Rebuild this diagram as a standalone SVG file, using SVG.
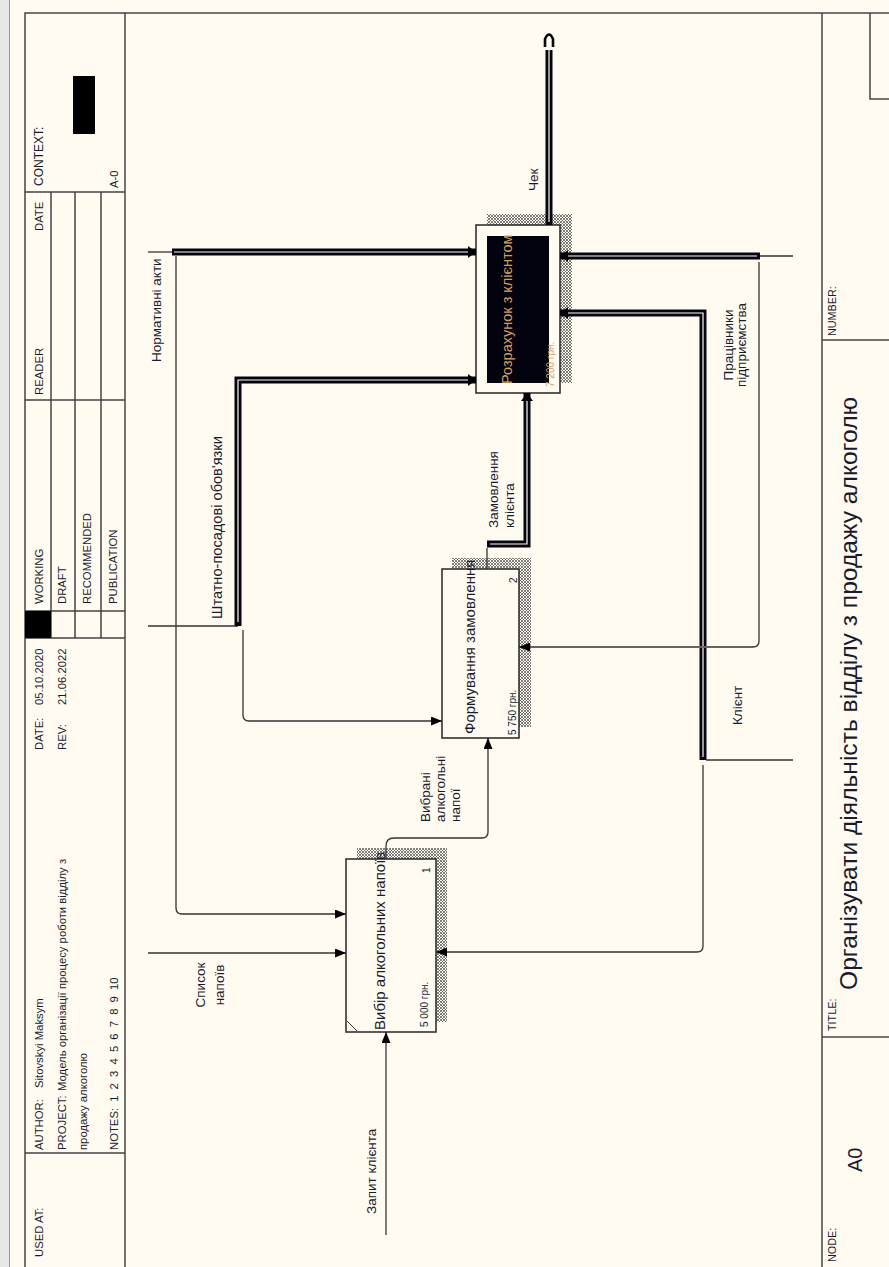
<svg xmlns="http://www.w3.org/2000/svg" width="889" height="1267" viewBox="0 0 889 1267">
<style>
.frame{stroke:#444;stroke-width:1.5;fill:none}
.hdr{font-family:"Liberation Sans",Arial,sans-serif;font-size:11.3px;fill:#1a1a2e}
.tb{font-family:"Liberation Sans",Arial,sans-serif;font-size:10.8px;fill:#1a1a2e}
.lbl{font-family:"Liberation Sans",Arial,sans-serif;font-size:13.5px;fill:#1a1a2e}
.btxt{font-family:"Liberation Sans",Arial,sans-serif;font-size:15px;fill:#1a1a2e}
.cost{font-family:"Liberation Sans",Arial,sans-serif;font-size:10px;fill:#1a1a2e}
.box{fill:#fffbf0;stroke:#333;stroke-width:1.6}
.thin{fill:none;stroke:#333;stroke-width:1.3}
.thick{fill:none;stroke:#050510;stroke-width:7}
.core{fill:none;stroke:#fffbf0;stroke-width:1.2}
</style>
<defs>
<pattern id="hatch" width="3" height="3" patternUnits="userSpaceOnUse"><rect width="3" height="3" fill="#fffbf0"/><path d="M0,0 L3,3 M3,0 L0,3" stroke="#555" stroke-width="0.75"/></pattern>
<marker id="arr" markerWidth="11" markerHeight="9" refX="11" refY="4.5" orient="auto" markerUnits="userSpaceOnUse"><path d="M0,0 L11,4.5 L0,9 z" fill="#000"/></marker>
<marker id="arrT" markerWidth="8" markerHeight="12" refX="8" refY="6" orient="auto" markerUnits="userSpaceOnUse"><path d="M0,0 L8,6 L0,12 z" fill="#000"/></marker>
</defs>
<rect width="889" height="1267" fill="#fffbf0"/>
<rect x="0" y="0" width="9" height="1267" fill="#e6e6e6"/>
<line x1="9.5" y1="0" x2="9.5" y2="1267" stroke="#999" stroke-width="1"/>

<g id="frame">
<path class="frame" d="M25,1267 V13 H889"/>
<path class="frame" d="M125,13 V1267"/>
<path class="frame" d="M25,192 H125 M25,400 H125 M25,611 H125 M25,638 H125 M25,1153 H125"/>
<path class="frame" d="M51,192 V638 M75,192 V638 M101,192 V638"/>
<rect x="25" y="611" width="26" height="27" fill="#000"/>
<rect x="73" y="76" width="22" height="58" fill="#000"/>
<path class="frame" d="M822,13 V1267 M822,340 H889 M822,1037 H889 M870,13 V99 H889"/>
<text class="hdr" transform="translate(43,186) rotate(-90)" style="font-size:12px">CONTEXT:</text>
<text class="hdr" transform="translate(118,188) rotate(-90)">A-0</text>
<text class="hdr" transform="translate(43,231) rotate(-90)">DATE</text>
<text class="hdr" transform="translate(43,395) rotate(-90)">READER</text>
<text class="hdr" transform="translate(43,604) rotate(-90)">WORKING</text>
<text class="hdr" transform="translate(66,604) rotate(-90)">DRAFT</text>
<text class="hdr" transform="translate(91,604) rotate(-90)">RECOMMENDED</text>
<text class="hdr" transform="translate(117,604) rotate(-90)">PUBLICATION</text>
<text class="hdr" transform="translate(43,750) rotate(-90)">DATE:</text>
<text class="hdr" transform="translate(43,705) rotate(-90)">05.10.2020</text>
<text class="hdr" transform="translate(66,750) rotate(-90)">REV:</text>
<text class="hdr" transform="translate(66,705) rotate(-90)">21.06.2022</text>
<text class="hdr" transform="translate(43,1150) rotate(-90)">AUTHOR:</text>
<text class="hdr" transform="translate(43,1088) rotate(-90)">Sitovskyi Maksym</text>
<text class="hdr" transform="translate(66,1150) rotate(-90)">PROJECT:</text>
<text class="hdr" transform="translate(66,1091) rotate(-90)">Модель організації процесу роботи відділу з</text>
<text class="hdr" transform="translate(87,1150) rotate(-90)">продажу алкоголю</text>
<text class="hdr" transform="translate(118,1150) rotate(-90)" word-spacing="3">NOTES:  1 2 3 4 5 6 7 8 9 10</text>
<text class="hdr" transform="translate(43,1257) rotate(-90)">USED AT:</text>
<text class="tb" transform="translate(836,336) rotate(-90)">NUMBER:</text>
<text class="tb" transform="translate(836,1031) rotate(-90)">TITLE:</text>
<text class="tb" transform="translate(836,1262) rotate(-90)">NODE:</text>
<text transform="translate(857,990) rotate(-90)" font-family="Liberation Sans, Arial, sans-serif" font-size="24.6" fill="#1a1a2e">Організувати діяльність відділу з продажу алкоголю</text>
<text transform="translate(862,1172) rotate(-90)" font-family="Liberation Sans, Arial, sans-serif" font-size="20" fill="#1a1a2e">A0</text>
</g>

<g id="node1">
<path d="M357,848 H447 V1022 H436 V859 H357 Z" fill="url(#hatch)"/>
<rect class="box" x="346" y="859" width="90" height="173"/>
<line x1="347" y1="1021" x2="357" y2="1031" stroke="#333" stroke-width="1"/>
<text class="btxt" transform="translate(385,1030) rotate(-90)">Вибір алкогольних напоїв</text>
<text class="cost" transform="translate(428,1027) rotate(-90)">5 000 грн.</text>
<text class="cost" transform="translate(430,873) rotate(-90)">1</text>
</g>

<g id="node2">
<path d="M452,558 H531 V727 H519 V569 H452 Z" fill="url(#hatch)"/>
<rect class="box" x="442" y="569" width="77" height="169"/>
<text class="btxt" transform="translate(475,734) rotate(-90)">Формування замовлення</text>
<text class="cost" transform="translate(516,735) rotate(-90)">5 750 грн.</text>
<text class="cost" transform="translate(517,583) rotate(-90)">2</text>
</g>

<g id="node3">
<path d="M487,214 H572 V383 H560 V225 H487 Z" fill="url(#hatch)"/>
<rect class="box" x="476" y="225" width="84" height="168"/>
<rect x="487" y="236" width="62" height="147" fill="#03030f"/>
<text class="btxt" transform="translate(512,384) rotate(-90)" style="fill:#d8a060;font-size:14.5px">Розрахунок з клієнтом</text>
<text class="cost" transform="translate(554,387) rotate(-90)" style="fill:#d8a060">7 200 грн.</text>
</g>

<g id="connectors">
<path class="thin" d="M148,252 H174"/>
<path class="thin" d="M176,256 V908 Q176,914 182,914 H346" marker-end="url(#arr)"/>
<path class="thin" d="M148,626 H238"/>
<path class="thin" d="M243,630 V715 Q243,721 249,721 H442" marker-end="url(#arr)"/>
<path class="thin" d="M148,953 H346" marker-end="url(#arr)"/>
<path class="thin" d="M386,1235 V1032" marker-end="url(#arr)"/>
<path class="thin" d="M386,859 V846 Q386,838 394,838 H482 Q488,838 488,832 V738" marker-end="url(#arr)"/>
<path class="thin" d="M487,569 V548"/>
<path class="thin" d="M760,256 H793"/>
<path class="thin" d="M759,262 V641 Q759,647 753,647 H519" marker-end="url(#arr)"/>
<path class="thin" d="M706,760 H793"/>
<path class="thin" d="M703,765 V946 Q703,952 697,952 H436" marker-end="url(#arr)"/>

<path class="thick" d="M172,252 H476" marker-end="url(#arrT)"/>
<path class="core" d="M174,252 H468"/>
<path class="thick" d="M238,626 V380 H476" marker-end="url(#arrT)"/>
<path class="core" d="M238,622 V380 H468"/>
<path class="thick" d="M487,544 H527 V393" marker-end="url(#arrT)"/>
<path class="core" d="M490,544 H527 V401"/>
<path class="thick" d="M549,225 V50"/>
<path class="core" d="M549,222 V50"/>
<path d="M545,47 V39 Q549,30 553,39 V47" fill="none" stroke="#050510" stroke-width="2.6"/>
<path class="thick" d="M760,256 H560" marker-end="url(#arrT)"/>
<path class="core" d="M757,256 H568"/>
<path class="thick" d="M703,760 V313 H560" marker-end="url(#arrT)"/>
<path class="core" d="M703,757 V313 H568"/>
<line x1="699" y1="647" x2="707" y2="647" stroke="#fffbf0" stroke-width="1.5"/>
<path class="thin" d="M699,647 H707"/>
</g>

<g id="labels">
<text class="lbl" transform="translate(161,362) rotate(-90)">Нормативні акти</text>
<text class="lbl" transform="translate(222,619) rotate(-90)" style="font-size:14.6px">Штатно-посадові обов'язки</text>
<text class="lbl" text-anchor="middle" transform="translate(205,985) rotate(-90)">Список</text>
<text class="lbl" text-anchor="middle" transform="translate(224,985) rotate(-90)">напоїв</text>
<text class="lbl" transform="translate(376,1214) rotate(-90)">Запит клієнта</text>
<text class="lbl" transform="translate(430,822) rotate(-90)">Вибрані</text>
<text class="lbl" transform="translate(445,822) rotate(-90)">алкогольні</text>
<text class="lbl" transform="translate(460,822) rotate(-90)">напої</text>
<text class="lbl" transform="translate(498,528) rotate(-90)">Замовлення</text>
<text class="lbl" transform="translate(514,528) rotate(-90)">клієнта</text>
<text class="lbl" transform="translate(538,191) rotate(-90)">Чек</text>
<text class="lbl" text-anchor="middle" transform="translate(733,345) rotate(-90)">Працівники</text>
<text class="lbl" text-anchor="middle" transform="translate(746,345) rotate(-90)">підприємства</text>
<text class="lbl" transform="translate(742,725) rotate(-90)">Клієнт</text>
</g>
</svg>
